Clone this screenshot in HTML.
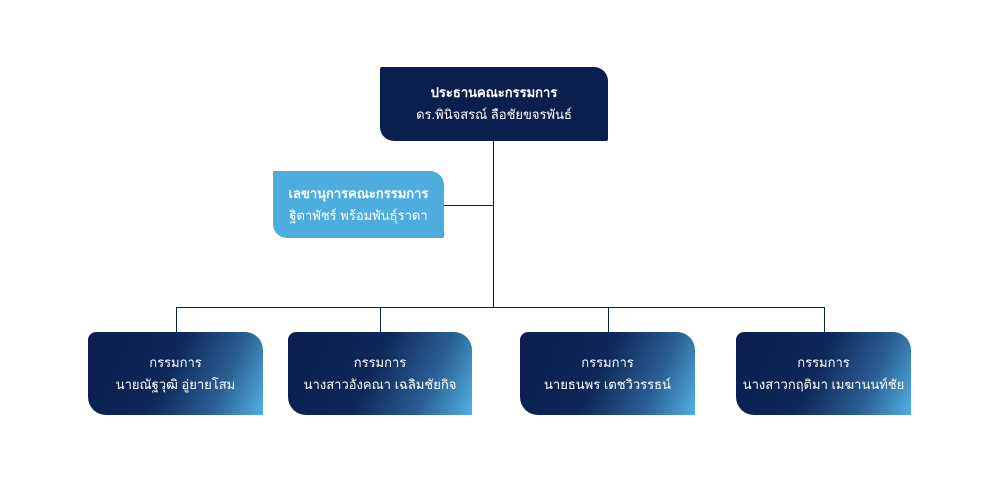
<!DOCTYPE html>
<html><head><meta charset="utf-8"><style>
body{margin:0;width:1000px;height:483px;background:#fff;position:relative;overflow:hidden;font-family:"Liberation Sans","Noto Sans CJK SC",sans-serif}
.b{position:absolute;box-sizing:border-box;display:flex;flex-direction:column;justify-content:center;align-items:center;color:#fff;text-align:center}
.t{font-weight:bold;font-size:13px;line-height:22px}
.s{font-size:13px;line-height:22px}
.top{left:380px;top:67px;width:228px;height:74px;background:#0b1f4f;border-radius:2px 14px 2px 14px}
.sec{left:273px;top:171px;width:171px;height:67px;background:#4eaddf;border-radius:2px 14px 2px 14px}
.bot{top:332px;height:83px;border-radius:8px 18px 0 18px;background:linear-gradient(115deg,#0b1f4f 0%,#0e2658 45%,#2a5f93 75%,#52b1e5 100%)}
.bot .t{font-weight:normal}
.l{position:absolute;background:#0b1f4f}
</style></head><body>
<div class="l" style="left:493px;top:141px;width:1px;height:167px"></div>
<div class="l" style="left:444px;top:205px;width:49px;height:1px"></div>
<div class="l" style="left:176px;top:307px;width:649px;height:1px"></div>
<div class="l" style="left:176px;top:307px;width:1px;height:25px"></div>
<div class="l" style="left:380px;top:307px;width:1px;height:25px"></div>
<div class="l" style="left:608px;top:307px;width:1px;height:25px"></div>
<div class="l" style="left:824px;top:307px;width:1px;height:25px"></div>
<div class="b top"><div class="t">ประธานคณะกรรมการ</div><div class="s">ดร.พินิจสรณ์ ลือชัยขจรพันธ์</div></div>
<div class="b sec"><div class="t">เลขานุการคณะกรรมการ</div><div class="s">ฐิตาพัชร์ พร้อมพันธุ์ราดา</div></div>
<div class="b bot" style="left:88px;width:175px"><div class="t">กรรมการ</div><div class="s">นายณัฐวุฒิ อู่ยายโสม</div></div>
<div class="b bot" style="left:288px;width:184px"><div class="t">กรรมการ</div><div class="s">นางสาวอังคณา เฉลิมชัยกิจ</div></div>
<div class="b bot" style="left:520px;width:175px"><div class="t">กรรมการ</div><div class="s">นายธนพร เตชวิวรรธน์</div></div>
<div class="b bot" style="left:736px;width:175px"><div class="t">กรรมการ</div><div class="s">นางสาวกฤติมา เมฆานนท์ชัย</div></div>
</body></html>
